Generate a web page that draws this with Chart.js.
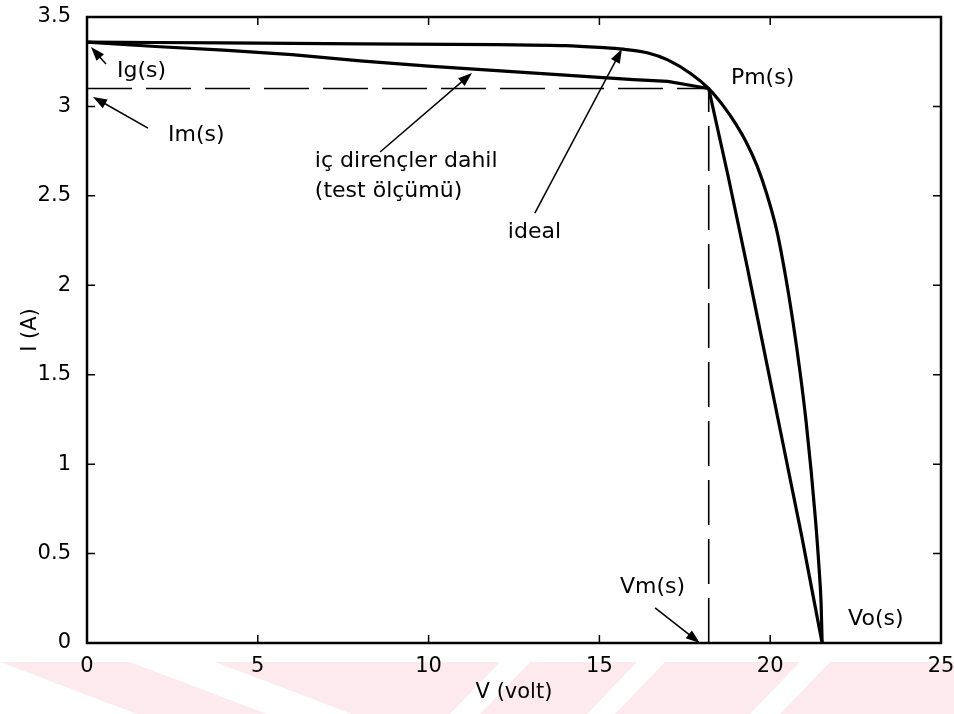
<!DOCTYPE html>
<html lang="tr">
<head>
    <meta charset="UTF-8">
    <meta name="viewport" content="width=device-width, initial-scale=1.0">
    <style>
        * {
            margin: 0;
            padding: 0;
            box-sizing: border-box;
        }
        body {
            background-color: #ffffff;
            width: 954px;
            height: 714px;
            overflow: hidden;
        }
        .graph-card {
            width: 954px;
            height: 714px;
        }
    </style>
</head>
<body>
    <div class="graph-card">
        <canvas id="myChart" width="954" height="714"></canvas>
    </div>

    <script src="https://cdn.jsdelivr.net/npm/chart.js"></script>
    <script>
        // I-V curve of the panel: ideal model vs. measured (with internal resistances)
        const idealV = [0, 4, 8, 12, 14, 15, 15.7, 16.4, 17.0, 17.7, 18.2, 18.6, 19.0, 19.3, 19.61, 19.9, 20.2, 20.45, 20.67, 20.87, 21.05, 21.2, 21.33, 21.43, 21.49, 21.52];
        const idealI = [3.36, 3.355, 3.35, 3.345, 3.34, 3.33, 3.32, 3.30, 3.26, 3.18, 3.10, 3.01, 2.90, 2.80, 2.67, 2.51, 2.30, 2.05, 1.79, 1.52, 1.24, 0.96, 0.68, 0.42, 0.22, 0];

        const testV = [0, 2, 4, 6, 8, 10, 12, 14, 16, 17, 18.2, 18.78, 19.33, 19.86, 20.39, 20.92, 21.22, 21.52];
        const testI = [3.36, 3.335, 3.315, 3.29, 3.255, 3.225, 3.2, 3.175, 3.15, 3.14, 3.10, 2.6, 2.1, 1.6, 1.1, 0.6, 0.3, 0];

        // maximum power point (Vm, Im)
        const vm = 18.2;
        const im = 3.1;

        const xTicks = [0, 5, 10, 15, 20, 25];
        const yTicks = [0, 0.5, 1, 1.5, 2, 2.5, 3, 3.5];

        const pts = (xs, ys) => xs.map((v, k) => ({x: v, y: ys[k]}));

        const FONT = "DejaVu Sans";

        // text labels and arrows, placed in data units
        const notes = [
            {text: "Ig(s)", at: [0.88, 3.198]},
            {text: "Im(s)", at: [2.37, 2.84]},
            {text: "iç dirençler dahil", at: [6.67, 2.695]},
            {text: "(test ölçümü)", at: [6.67, 2.527]},
            {text: "ideal", at: [12.32, 2.298]},
            {text: "Pm(s)", at: [18.85, 3.159]},
            {text: "Vm(s)", at: [15.6, 0.313]},
            {text: "Vo(s)", at: [22.28, 0.134]}
        ];
        const arrows = [
            {from: [0.556, 3.237], to: [0.117, 3.332]},
            {from: [1.786, 2.879], to: [0.176, 3.053]},
            {from: [8.58, 2.745], to: [11.27, 3.187]},
            {from: [13.11, 2.404], to: [15.66, 3.321]},
            {from: [16.63, 0.196], to: [17.94, 0.0]}
        ];

        function drawArrow(ctx, x0, y0, x1, y1) {
            const a = Math.atan2(y1 - y0, x1 - x0);
            const len = 14, half = 5;
            ctx.beginPath();
            ctx.moveTo(x0, y0);
            ctx.lineTo(x1 - Math.cos(a) * len * 0.7, y1 - Math.sin(a) * len * 0.7);
            ctx.stroke();
            ctx.beginPath();
            ctx.moveTo(x1, y1);
            ctx.lineTo(x1 - len * Math.cos(a) + half * Math.sin(a), y1 - len * Math.sin(a) - half * Math.cos(a));
            ctx.lineTo(x1 - len * Math.cos(a) - half * Math.sin(a), y1 - len * Math.sin(a) + half * Math.cos(a));
            ctx.closePath();
            ctx.fill();
        }

        const decor = {
            id: "decor",
            beforeDraw(chart) {
                const ctx = chart.ctx;
                ctx.save();
                ctx.fillStyle = "#ffffff";
                ctx.fillRect(0, 0, chart.width, chart.height);
                // faint pink stripes along the bottom edge
                ctx.fillStyle = "rgb(253, 234, 238)";
                const bands = [
                    [[0, 662], [130, 662], [267, 714], [137, 714]],
                    [[215, 662], [500, 662], [450, 714], [352, 714]],
                    [[530, 662], [637, 662], [587, 714], [480, 714]],
                    [[665, 662], [800, 662], [750, 714], [615, 714]],
                    [[830, 662], [954, 662], [954, 714], [780, 714]]
                ];
                bands.forEach(b => {
                    ctx.beginPath();
                    b.forEach((p, k) => k ? ctx.lineTo(p[0], p[1]) : ctx.moveTo(p[0], p[1]));
                    ctx.closePath();
                    ctx.fill();
                });
                ctx.restore();
            },
            afterDatasetsDraw(chart) {
                const ctx = chart.ctx;
                const xs = chart.scales.x, ys = chart.scales.y;
                const {left, right, top, bottom} = chart.chartArea;
                ctx.save();
                ctx.strokeStyle = "#000";
                ctx.fillStyle = "#000";

                // box around the plot and inward tick marks
                ctx.lineWidth = 2.5;
                ctx.strokeRect(left, top, right - left, bottom - top);
                ctx.lineWidth = 1.5;
                ctx.beginPath();
                xTicks.forEach(v => {
                    const px = xs.getPixelForValue(v);
                    ctx.moveTo(px, bottom); ctx.lineTo(px, bottom - 8);
                    ctx.moveTo(px, top); ctx.lineTo(px, top + 8);
                });
                yTicks.forEach(v => {
                    const py = ys.getPixelForValue(v);
                    ctx.moveTo(left, py); ctx.lineTo(left + 8, py);
                    ctx.moveTo(right, py); ctx.lineTo(right - 8, py);
                });
                ctx.stroke();

                // arrows
                ctx.lineWidth = 1.5;
                arrows.forEach(a => {
                    drawArrow(ctx,
                        xs.getPixelForValue(a.from[0]), ys.getPixelForValue(a.from[1]),
                        xs.getPixelForValue(a.to[0]), ys.getPixelForValue(a.to[1]));
                });

                // labels
                ctx.font = "22px '" + FONT + "'";
                ctx.textAlign = "left";
                ctx.textBaseline = "middle";
                notes.forEach(n => {
                    ctx.fillText(n.text, xs.getPixelForValue(n.at[0]), ys.getPixelForValue(n.at[1]));
                });
                ctx.restore();
            }
        };

        new Chart("myChart", {
            type: "scatter",
            data: {
                datasets: [
                    {
                        label: "ideal",
                        data: pts(idealV, idealI),
                        showLine: true,
                        borderColor: "#000",
                        borderWidth: 3.2,
                        pointRadius: 0,
                        cubicInterpolationMode: "monotone"
                    },
                    {
                        label: "iç dirençler dahil (test ölçümü)",
                        data: pts(testV, testI),
                        showLine: true,
                        borderColor: "#000",
                        borderWidth: 3.2,
                        pointRadius: 0,
                        tension: 0
                    },
                    {
                        label: "Im",
                        data: [{x: 0, y: im}, {x: vm, y: im}],
                        showLine: true,
                        borderColor: "#000",
                        borderWidth: 1.6,
                        borderDash: [45, 14],
                        pointRadius: 0
                    },
                    {
                        label: "Vm",
                        data: [{x: vm, y: 0}, {x: vm, y: im}],
                        showLine: true,
                        borderColor: "#000",
                        borderWidth: 1.6,
                        borderDash: [45, 14],
                        pointRadius: 0
                    }
                ]
            },
            options: {
                responsive: false,
                animation: false,
                devicePixelRatio: 1,
                layout: {
                    padding: {top: 17, right: 13, left: 0, bottom: 0}
                },
                plugins: {
                    legend: {display: false},
                    tooltip: {enabled: false}
                },
                scales: {
                    x: {
                        type: "linear",
                        min: 0,
                        max: 25,
                        afterFit: s => {
                            s.height = 71;
                            s.paddingLeft = 0;
                            s.paddingRight = 0;
                        },
                        afterBuildTicks: s => { s.ticks = xTicks.map(v => ({value: v})); },
                        grid: {display: false},
                        border: {display: false},
                        ticks: {
                            color: "#000",
                            padding: 3,
                            maxRotation: 0,
                            font: {family: FONT, size: 21},
                            callback: v => String(v)
                        },
                        title: {
                            display: true,
                            text: "V (volt)",
                            color: "#000",
                            font: {family: FONT, size: 21},
                            padding: {top: 0, bottom: 9}
                        }
                    },
                    y: {
                        type: "linear",
                        min: 0,
                        max: 3.5,
                        afterFit: s => {
                            s.width = 87;
                            s.paddingTop = 0;
                            s.paddingBottom = 0;
                        },
                        afterBuildTicks: s => { s.ticks = yTicks.map(v => ({value: v})); },
                        grid: {display: false},
                        border: {display: false},
                        ticks: {
                            color: "#000",
                            padding: 8,
                            font: {family: FONT, size: 21},
                            callback: v => String(v)
                        },
                        title: {
                            display: true,
                            text: "I (A)",
                            color: "#000",
                            font: {family: FONT, size: 21},
                            padding: {top: 18, bottom: 0}
                        }
                    }
                }
            },
            plugins: [decor]
        });
    </script>
</body>
</html>
